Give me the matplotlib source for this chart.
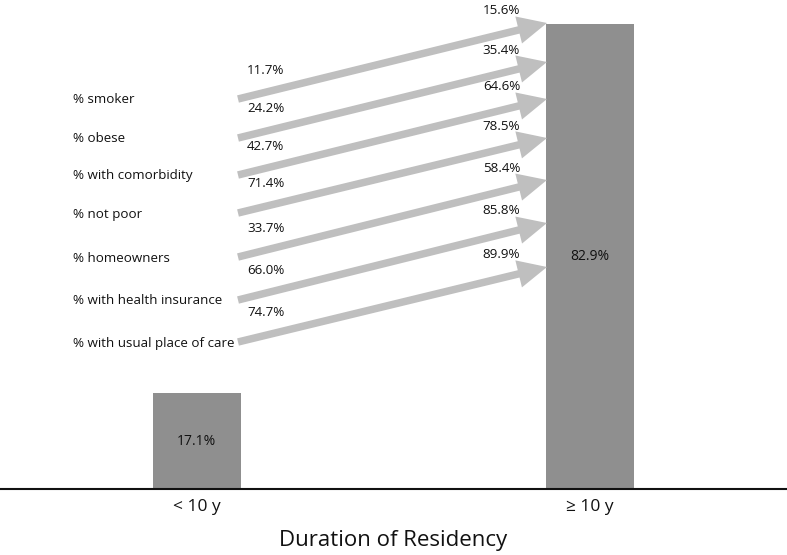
import matplotlib.pyplot as plt

plt.rcParams['font.family'] = ['Open Sans', 'DejaVu Sans']

# bar data
groups = ['< 10 y', '\u2265 10 y']
bar_values = [17.1, 82.9]

# characteristics: value for <10 y residents and for >=10 y residents
characteristics = [
    '% smoker',
    '% obese',
    '% with comorbidity',
    '% not poor',
    '% homeowners',
    '% with health insurance',
    '% with usual place of care',
]
short_values = [11.7, 24.2, 42.7, 71.4, 33.7, 66.0, 74.7]
long_values = [15.6, 35.4, 64.6, 78.5, 58.4, 85.8, 89.9]

# arrow layout (figure pixels from the top)
arrow_start_y = [99, 138, 175, 213, 257, 300, 342]
arrow_end_y = [23, 62, 99, 138, 180, 223, 267]

W, H = 787, 555
bar_color = '#8f8f8f'
arrow_color = '#bfbfbf'
text_color = '#111111'

fig = plt.figure(figsize=(W / 100, H / 100), dpi=100)
baseline = 489
ax = fig.add_axes([0, (H - baseline) / H, 1, baseline / H])
ax.set_facecolor('none')

bar_width = 0.224
bars = ax.bar(range(len(groups)), bar_values, width=bar_width, color=bar_color)
ax.set_xlim(-0.5, 1.5)
ax.set_ylim(0, 87.2)

for rect, v in zip(bars, bar_values):
    ax.text(rect.get_x() + rect.get_width() / 2, v / 2, f'{v:.1f}%',
            ha='center', va='center', fontsize=10, color=text_color)

ax.set_xticks(range(len(groups)))
ax.set_xticklabels(groups, fontsize=12.5, color=text_color)
ax.tick_params(axis='x', length=0, pad=7)
ax.set_yticks([])
for s in ['top', 'left', 'right']:
    ax.spines[s].set_visible(False)
ax.spines['bottom'].set_linewidth(1.5)
ax.spines['bottom'].set_color('#111111')
ax.set_xlabel('Duration of Residency', fontsize=16, labelpad=11, color=text_color)


def fy(py):
    return 1 - py / H


x0, x1 = 238 / W, 547 / W
for i, name in enumerate(characteristics):
    y0 = arrow_start_y[i]
    y1 = arrow_end_y[i]
    ax.annotate('', xy=(x1, fy(y1)), xytext=(x0, fy(y0)),
                xycoords='figure fraction', textcoords='figure fraction',
                arrowprops=dict(arrowstyle='simple,head_length=1.05,head_width=1.0,tail_width=0.27',
                                color=arrow_color, shrinkA=0, shrinkB=0,
                                mutation_scale=20, lw=0))
    fig.text(73 / W, fy(y0 + 1), name, ha='left', va='center', fontsize=9.6, color=text_color)
    fig.text(247 / W, fy(y0 - 29), f'{short_values[i]:.1f}%', ha='left', va='center',
             fontsize=9.6, color=text_color)
    fig.text(520 / W, fy(y1 - 12), f'{long_values[i]:.1f}%', ha='right', va='center',
             fontsize=9.6, color=text_color)

fig.savefig('out.png', dpi=100)
